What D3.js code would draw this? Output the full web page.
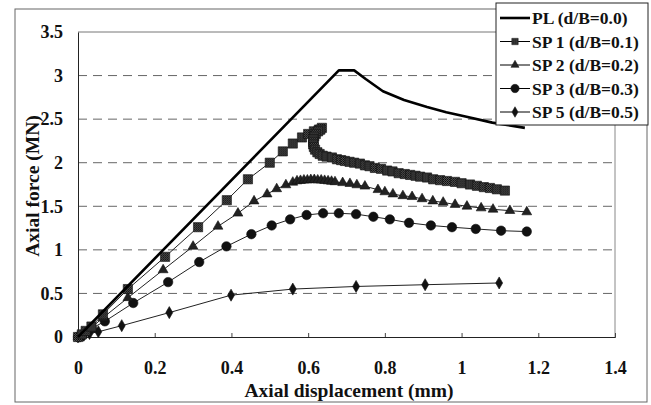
<!DOCTYPE html>
<html lang="en">
<head>
  <meta charset="UTF-8">
  <title>Axial force vs axial displacement</title>
  <script src="https://d3js.org/d3.v7.min.js"></script>
  <style>
    body { margin: 0; background: #fff; }
    text { font-family: "Liberation Serif", "Times New Roman", serif; font-weight: bold; fill: #111; }
  </style>
</head>
<body>
  <script>
    // tick values
    const xTicks = [0, 0.2, 0.4, 0.6, 0.8, 1, 1.2, 1.4];
    const yTicks = [0, 0.5, 1, 1.5, 2, 2.5, 3, 3.5];

    // series names
    const seriesNames = ['PL (d/B=0.0)', 'SP 1 (d/B=0.1)', 'SP 2 (d/B=0.2)', 'SP 3 (d/B=0.3)', 'SP 5 (d/B=0.5)'];

    // PL (d/B=0.0)
    const pl = [[0, 0], [0.68, 3.06], [0.72, 3.06], [0.75, 2.96], [0.795, 2.82], [0.85, 2.72],
      [0.91, 2.64], [0.96, 2.58], [1.01, 2.53], [1.08, 2.46], [1.165, 2.40]];

    // SP 1 (d/B=0.1)
    const sp1 = [[0, 0], [0.01, 0.03], [0.02, 0.07], [0.035, 0.12], [0.065, 0.26], [0.13, 0.55],
      [0.227, 0.92], [0.313, 1.26], [0.388, 1.57], [0.443, 1.81], [0.50, 2.0], [0.534, 2.13],
      [0.56, 2.22], [0.584, 2.29], [0.60, 2.33], [0.615, 2.36], [0.628, 2.38],
      [0.636, 2.40], [0.632, 2.38], [0.626, 2.36], [0.620, 2.33], [0.616, 2.30], [0.614, 2.27],
      [0.613, 2.24], [0.613, 2.21], [0.615, 2.18], [0.618, 2.15], [0.624, 2.12], [0.630, 2.10],
      [0.638, 2.08], [0.648, 2.07], [0.662, 2.06], [0.675, 2.04], [0.686, 2.03], [0.696, 2.02],
      [0.708, 2.01], [0.720, 2.00], [0.735, 1.99], [0.748, 1.97], [0.760, 1.96], [0.774, 1.94],
      [0.790, 1.93], [0.806, 1.91], [0.820, 1.90], [0.836, 1.88], [0.852, 1.87], [0.866, 1.86],
      [0.880, 1.85], [0.892, 1.84], [0.910, 1.83], [0.926, 1.81], [0.944, 1.80], [0.962, 1.79],
      [0.983, 1.78], [1.000, 1.765], [1.022, 1.75], [1.040, 1.735], [1.058, 1.72], [1.074, 1.71],
      [1.092, 1.695], [1.113, 1.68]];

    // SP 2 (d/B=0.2)
    const sp2 = [[0, 0], [0.01, 0.03], [0.03, 0.09], [0.065, 0.22], [0.13, 0.45], [0.222, 0.77],
      [0.30, 1.04], [0.365, 1.27], [0.417, 1.42], [0.459, 1.56], [0.493, 1.64], [0.518, 1.70],
      [0.542, 1.745], [0.56, 1.775], [0.571, 1.79], [0.580, 1.795], [0.589, 1.80], [0.598, 1.80],
      [0.607, 1.805], [0.616, 1.805], [0.625, 1.80], [0.634, 1.80], [0.643, 1.795], [0.652, 1.79],
      [0.661, 1.785], [0.67, 1.78], [0.69, 1.77], [0.709, 1.76], [0.727, 1.745], [0.748, 1.73],
      [0.782, 1.69], [0.80, 1.665], [0.821, 1.64], [0.847, 1.62], [0.871, 1.61], [0.897, 1.585],
      [0.925, 1.56], [0.952, 1.545], [0.983, 1.52], [1.014, 1.50], [1.051, 1.48], [1.082, 1.465],
      [1.126, 1.45], [1.17, 1.435]];

    // SP 3 (d/B=0.3)
    const sp3 = [[0, 0], [0.01, 0.01], [0.036, 0.1], [0.07, 0.18], [0.144, 0.39], [0.235, 0.63],
      [0.316, 0.86], [0.387, 1.04], [0.452, 1.18], [0.505, 1.28], [0.553, 1.35], [0.596, 1.40],
      [0.639, 1.42], [0.68, 1.42], [0.725, 1.41], [0.77, 1.38], [0.813, 1.35], [0.863, 1.31],
      [0.92, 1.28], [0.975, 1.26], [1.037, 1.24], [1.103, 1.22], [1.17, 1.21]];

    // SP 5 (d/B=0.5)
    const sp5 = [[0, 0], [0.005, 0.01], [0.015, 0.02], [0.03, 0.04], [0.053, 0.06], [0.114, 0.13],
      [0.238, 0.28], [0.399, 0.48], [0.56, 0.55], [0.725, 0.58], [0.905, 0.60], [1.098, 0.62]];

    const w = 651;
    const h = 405;
    const serif = '"Liberation Serif", "Times New Roman", serif';

    const xScale = d3.scaleLinear().domain([0, 1.4]).range([78, 615]);
    const yScale = d3.scaleLinear().domain([0, 3.5]).range([337, 32]);

    const svg = d3.select('body')
      .append('svg')
      .attr('width', w)
      .attr('height', h);

    // pattern for the hatched square markers
    const pat = svg.append('defs').append('pattern')
      .attr('id', 'hatch')
      .attr('width', 2).attr('height', 2)
      .attr('patternUnits', 'userSpaceOnUse');
    pat.append('rect').attr('width', 2).attr('height', 2).attr('fill', '#505050');
    pat.append('rect').attr('width', 1).attr('height', 1).attr('fill', '#0a0a0a');
    pat.append('rect').attr('x', 1).attr('y', 1).attr('width', 1).attr('height', 1).attr('fill', '#1a1a1a');

    // outer frame
    svg.append('rect')
      .attr('x', 15).attr('y', 9)
      .attr('width', 632).attr('height', 393)
      .attr('fill', 'none')
      .attr('stroke', '#666')
      .attr('stroke-width', 1);

    // dashed grid lines
    svg.selectAll('.grid')
      .data(yTicks.filter(d => d > 0 && d < 3.5))
      .enter()
      .append('line')
      .attr('x1', xScale(0)).attr('x2', xScale(1.4))
      .attr('y1', d => yScale(d)).attr('y2', d => yScale(d))
      .attr('stroke', '#666')
      .attr('stroke-width', 1)
      .attr('stroke-dasharray', '9,6');

    // plot area frame
    svg.append('line').attr('x1', xScale(0)).attr('x2', xScale(1.4))
      .attr('y1', yScale(3.5)).attr('y2', yScale(3.5)).attr('stroke', '#777');
    svg.append('line').attr('x1', xScale(1.4)).attr('x2', xScale(1.4))
      .attr('y1', yScale(3.5)).attr('y2', yScale(0)).attr('stroke', '#888');

    // axes
    const xAxis = d3.axisBottom(xScale).tickValues(xTicks).tickSize(-4).tickPadding(24)
      .tickFormat(d => d3.format('')(d));
    svg.append('g')
      .attr('transform', `translate(0,${yScale(0)})`)
      .attr('font-family', serif)
      .call(xAxis)
      .call(g => g.select('.domain').attr('stroke', '#222'))
      .call(g => g.selectAll('.tick line').attr('stroke', '#444'))
      .call(g => g.selectAll('.tick text')
        .style('font-family', serif)
        .style('font-weight', 'bold').style('font-size', '18px').attr('fill', '#111'));

    const yAxis = d3.axisLeft(yScale).tickValues(yTicks).tickSize(0).tickPadding(15)
      .tickFormat(d => d3.format('')(d));
    svg.append('g')
      .attr('transform', `translate(${xScale(0)},0)`)
      .call(yAxis)
      .call(g => g.select('.domain').attr('stroke', '#222'))
      .call(g => g.selectAll('.tick text')
        .style('font-family', serif)
        .style('font-weight', 'bold').style('font-size', '18px').attr('fill', '#111'));

    // axis titles
    svg.append('text')
      .attr('x', 349).attr('y', 397)
      .attr('text-anchor', 'middle')
      .style('font-size', '19.5px')
      .text('Axial displacement (mm)');

    svg.append('text')
      .attr('transform', 'translate(39,186) rotate(-90)')
      .attr('text-anchor', 'middle')
      .style('font-size', '19.5px')
      .text('Axial force (MN)');

    const line = d3.line().x(d => xScale(d[0])).y(d => yScale(d[1]));

    const markerSeries = [
      { data: sp5, sym: d3.symbolDiamond, size: 42, fill: '#111' },
      { data: sp3, sym: d3.symbolCircle, size: 70, fill: '#111' },
      { data: sp2, sym: d3.symbolTriangle, size: 42, fill: '#222' },
      { data: sp1, sym: d3.symbolSquare, size: 85, fill: 'url(#hatch)' }
    ];

    markerSeries.forEach(s => {
      svg.append('path')
        .datum(s.data)
        .attr('d', line)
        .attr('fill', 'none')
        .attr('stroke', '#222')
        .attr('stroke-width', 1);
      svg.selectAll(null)
        .data(s.data)
        .enter()
        .append('path')
        .attr('transform', d => `translate(${xScale(d[0])},${yScale(d[1])})`)
        .attr('d', d3.symbol().type(s.sym).size(s.size))
        .attr('fill', s.fill)
        .attr('stroke', '#111')
        .attr('stroke-width', 0.6);
    });

    // PL line
    svg.append('path')
      .datum(pl)
      .attr('d', line)
      .attr('fill', 'none')
      .attr('stroke', '#000')
      .attr('stroke-width', 2.6)
      .attr('stroke-linejoin', 'round');

    // legend
    const legend = svg.append('g');
    legend.append('rect')
      .attr('x', 496).attr('y', 3)
      .attr('width', 152).attr('height', 122)
      .attr('fill', '#fff')
      .attr('stroke', '#222')
      .attr('stroke-width', 1);

    const legendSyms = [null, d3.symbolSquare, d3.symbolTriangle, d3.symbolCircle, d3.symbolDiamond];
    const legendSizes = [0, 40, 28, 55, 32];
    const legendFills = ['#000', 'url(#hatch)', '#222', '#111', '#111'];

    seriesNames.forEach((name, i) => {
      const y = 18 + i * 23.5;
      legend.append('line')
        .attr('x1', 500).attr('x2', 530)
        .attr('y1', y).attr('y2', y)
        .attr('stroke', '#000')
        .attr('stroke-width', i === 0 ? 2.6 : 1);
      if (legendSyms[i]) {
        legend.append('path')
          .attr('transform', `translate(515,${y})`)
          .attr('d', d3.symbol().type(legendSyms[i]).size(legendSizes[i]))
          .attr('fill', legendFills[i])
          .attr('stroke', '#222')
          .attr('stroke-width', 0.6);
      }
      legend.append('text')
        .attr('x', 532).attr('y', y + 6)
        .style('font-size', '17.5px')
        .text(name);
    });
  </script>
</body>
</html>
